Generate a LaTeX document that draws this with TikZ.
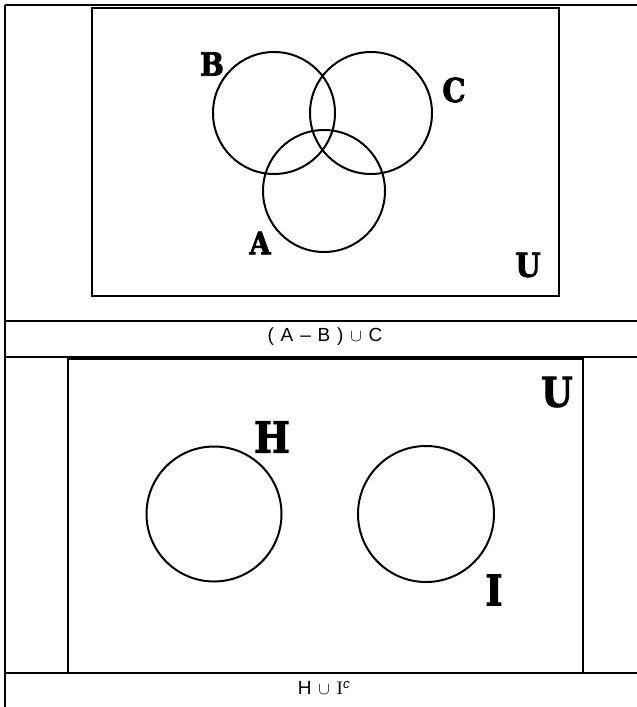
\documentclass[tikz,border=0pt]{standalone}
\usepackage{fontspec}
\setmainfont{Liberation Sans}
\newfontfamily\labfont[FakeStretch=0.88,FakeBold=2.5]{DejaVu Serif}
\newfontfamily\serfont{Liberation Serif}
\newcommand{\gp}{\hspace{0.36em}}
\begin{document}
\begin{tikzpicture}[x=1pt,y=-1pt,
  tline/.style={line width=2.5pt,black},
  rline/.style={line width=2.5pt,black},
  circ/.style={line width=2pt,black},
  lab/.style={inner sep=0pt},
  captext/.style={inner sep=0pt,font=\fontsize{19}{21}\selectfont}]
\useasboundingbox (0,0) rectangle (637,707);
% table
\draw[tline] (5,5) -- (5,707);
\foreach \yy in {5,321,357,673} \draw[tline] (5,\yy) -- (637,\yy);
% top panel
\draw[rline] (92,8) rectangle (559,296);
\draw[circ] (274,113) circle (61);
\draw[circ] (371,113) circle (61);
\draw[circ] (324,191) circle (61);
\node[lab,font=\labfont\bfseries\fontsize{32}{34}\selectfont] (lB) at (212,64) {B};
\node[lab,font=\labfont\bfseries\fontsize{33}{34}\selectfont] (lC) at (454,90) {C};
\node[lab,font=\labfont\bfseries\fontsize{31}{34}\selectfont] (lA) at (260,243) {A};
\node[lab,font=\labfont\bfseries\fontsize{33}{34}\selectfont] (lU1) at (528,265) {U};
\node[captext] (c1) at (325,337) {(\gp A\gp –\gp B\gp )\gp$\cup$\gp C};
% bottom panel
\draw[rline] (68,359) rectangle (583,673);
\draw[circ] (214,514) circle (67.5);
\draw[circ] (426,514) circle (68);
\node[lab,font=\labfont\bfseries\fontsize{43}{44}\selectfont] (lH) at (272,437) {H};
\node[lab,font=\labfont\bfseries\fontsize{42}{44}\selectfont] (lI) at (494,590) {I};
\node[lab,font=\labfont\bfseries\fontsize{41}{44}\selectfont] (lU2) at (557,392) {U};
\node[captext] (c2) at (324,688) {H\gp$\cup$\gp{\serfont I}$^{\mathit{c}}$};
\end{tikzpicture}
\end{document}
